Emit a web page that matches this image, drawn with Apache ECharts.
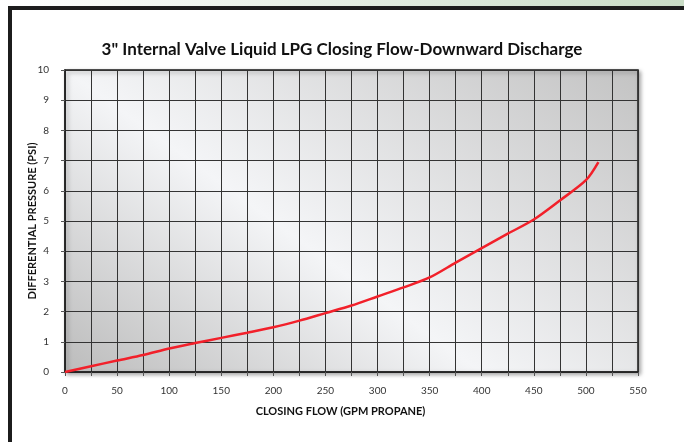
<!DOCTYPE html>
<html>
<head>
<meta charset="utf-8">
<script src="https://cdn.jsdelivr.net/npm/echarts@6/dist/echarts.min.js"></script>
<style>
  html, body { margin: 0; padding: 0; background: #fff; }
  #chart { width: 684px; height: 442px; }
</style>
</head>
<body>
<div id="chart"></div>
<script>
// closing flow (GPM propane) vs differential pressure (PSI)
const flowGpm = [0, 25, 50, 75, 100, 125, 150, 175, 200, 225, 250, 275, 300, 325, 350, 375, 400, 425, 450, 475, 500, 512]
const pressurePsi = [0, 0.19, 0.38, 0.56, 0.78, 0.96, 1.13, 1.3, 1.48, 1.7, 1.95, 2.2, 2.5, 2.8, 3.13, 3.62, 4.1, 4.58, 5.05, 5.68, 6.35, 6.95]

const chartTitle = '3" Internal Valve Liquid LPG Closing Flow-Downward Discharge'
const xName = 'CLOSING FLOW (GPM PROPANE)'
const yName = 'DIFFERENTIAL PRESSURE (PSI)'

const myChart = echarts.init(document.getElementById('chart'))
const font = 'Lato, "Liberation Sans", sans-serif'
const gridLine = { lineStyle: { color: '#333', width: 1 } }

let option = {
  animation: false,
  textStyle: { fontFamily: font },
  title: {
    text: chartTitle,
    left: 'center',
    top: 36,
    padding: [5, 5, 5, 18],
    textStyle: { fontSize: 17, fontWeight: 'bold', color: '#111', fontFamily: font }
  },
  grid: {
    left: 65, right: 46, top: 70, bottom: 70,
    show: true,
    borderColor: '#1a1a1a',
    borderWidth: 1.5,
    // 斜向灰色渐变背景 (light band from top-left corner down to bottom middle-right)
    backgroundColor: new echarts.graphic.LinearGradient(129, 418, 471, -52, [
      { offset: 0, color: '#bcbcbc' },
      { offset: 0.42, color: '#f4f5f7' },
      { offset: 1, color: '#c3c3c3' }
    ], true),
    shadowColor: 'rgba(0,0,0,0.35)',
    shadowBlur: 4,
    shadowOffsetX: 2,
    shadowOffsetY: 2
  },
  graphic: [
    // 外框 (top band + black frame lines)
    {
      type: 'rect', shape: { x: 0, y: 0, width: 684, height: 6 }, silent: true,
      style: { fill: new echarts.graphic.LinearGradient(0, 0, 1, 0, [
        { offset: 0, color: '#ffffff' }, { offset: 1, color: '#c9dcc6' }
      ]) }
    },
    { type: 'rect', shape: { x: 8, y: 6, width: 676, height: 4 }, style: { fill: '#1c1c1c' }, silent: true },
    { type: 'rect', shape: { x: 8, y: 6, width: 4, height: 436 }, style: { fill: '#1c1c1c' }, silent: true }
  ],
  xAxis: {
    type: 'value',
    min: 0, max: 550, interval: 50,
    name: xName,
    nameLocation: 'middle',
    nameGap: 34,
    nameTextStyle: { fontSize: 11, fontWeight: 'bold', color: '#111', padding: [0, 22, 0, 0] },
    axisLine: { show: true, lineStyle: { color: '#222', width: 1.5 } },
    axisTick: { show: true, length: 4, lineStyle: { color: '#555' } },
    minorTick: { show: true, splitNumber: 2, length: 4, lineStyle: { color: '#555' } },
    axisLabel: { fontSize: 10, color: '#333', margin: 14 },
    splitLine: { show: true, ...gridLine },
    minorSplitLine: { show: true, ...gridLine }
  },
  yAxis: {
    type: 'value',
    min: 0, max: 10, interval: 1,
    name: yName,
    nameLocation: 'middle',
    nameGap: 27,
    nameMoveOverlap: false,
    nameRotate: 90,
    nameTextStyle: { fontSize: 11, fontWeight: 'bold', color: '#111' },
    axisLine: { show: true, lineStyle: { color: '#222', width: 1.5 } },
    axisTick: { show: true, length: 4, lineStyle: { color: '#555' } },
    axisLabel: { fontSize: 10, color: '#333', margin: 16 },
    splitLine: { show: true, ...gridLine }
  },
  series: [
    {
      type: 'line',
      data: flowGpm.map((x, i) => [x, pressurePsi[i]]),
      smooth: 0.3,
      showSymbol: false,
      lineStyle: { color: '#f2202a', width: 2.5 }
    }
  ]
}
myChart.setOption(option)
</script>
</body>
</html>
